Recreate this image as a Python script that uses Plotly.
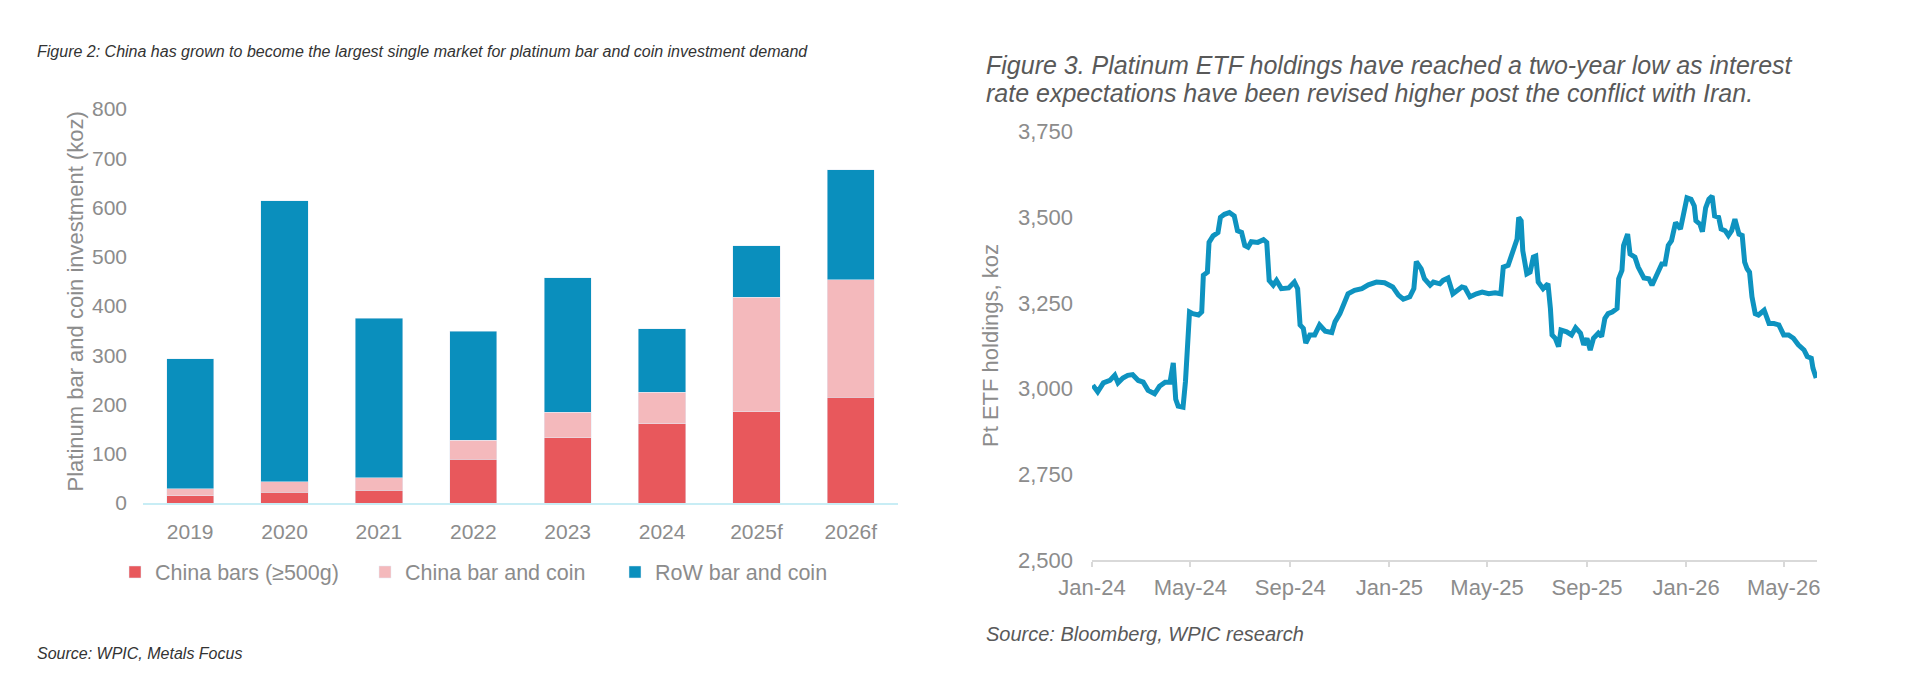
import plotly.graph_objects as go

# Figure 2 - bar and coin investment (koz)
years = ['2019', '2020', '2021', '2022', '2023', '2024', '2025f', '2026f']
china_bars = [15, 22, 26, 89, 133, 161, 185, 215]
china_bar_coin = [14, 21, 25, 38, 51, 64, 233, 238]
row_bar_coin = [264, 571, 324, 222, 273, 129, 104, 224]

# Figure 3 - Pt ETF holdings (koz)
etf_dates = [
    '2024-01-02', '2024-01-08', '2024-01-15', '2024-01-23', '2024-01-29', '2024-02-02',
    '2024-02-08', '2024-02-14', '2024-02-20', '2024-02-27', '2024-03-04', '2024-03-10',
    '2024-03-18', '2024-03-24', '2024-03-31', '2024-04-06', '2024-04-10', '2024-04-13',
    '2024-04-16', '2024-04-22', '2024-04-25', '2024-04-28', '2024-04-30', '2024-05-04',
    '2024-05-11', '2024-05-15', '2024-05-17', '2024-05-22', '2024-05-24', '2024-05-29',
    '2024-06-04', '2024-06-07', '2024-06-12', '2024-06-18', '2024-06-24', '2024-06-28',
    '2024-07-03', '2024-07-07', '2024-07-11', '2024-07-15', '2024-07-23', '2024-07-30',
    '2024-08-03', '2024-08-06', '2024-08-11', '2024-08-15', '2024-08-21', '2024-08-30',
    '2024-09-06', '2024-09-10', '2024-09-13', '2024-09-17', '2024-09-20', '2024-09-25',
    '2024-10-01', '2024-10-07', '2024-10-14', '2024-10-22', '2024-10-26', '2024-11-01',
    '2024-11-05', '2024-11-11', '2024-11-19', '2024-11-28', '2024-12-06', '2024-12-16',
    '2024-12-26', '2025-01-05', '2025-01-12', '2025-01-18', '2025-01-26', '2025-01-31',
    '2025-02-03', '2025-02-09', '2025-02-13', '2025-02-20', '2025-02-24', '2025-03-04',
    '2025-03-08', '2025-03-14', '2025-03-20', '2025-03-24', '2025-03-31', '2025-04-04',
    '2025-04-10', '2025-04-18', '2025-04-25', '2025-05-03', '2025-05-11', '2025-05-18',
    '2025-05-21', '2025-05-27', '2025-05-29', '2025-06-02', '2025-06-07', '2025-06-09',
    '2025-06-12', '2025-06-14', '2025-06-19', '2025-06-23', '2025-06-27', '2025-06-30',
    '2025-07-03', '2025-07-09', '2025-07-15', '2025-07-18', '2025-07-20', '2025-07-24',
    '2025-07-28', '2025-07-31', '2025-08-07', '2025-08-13', '2025-08-18', '2025-08-24',
    '2025-08-28', '2025-09-01', '2025-09-05', '2025-09-09', '2025-09-15', '2025-09-19',
    '2025-09-23', '2025-09-27', '2025-10-02', '2025-10-08', '2025-10-10', '2025-10-14',
    '2025-10-16', '2025-10-21', '2025-10-24', '2025-10-30', '2025-11-03', '2025-11-10',
    '2025-11-16', '2025-11-20', '2025-11-26', '2025-12-02', '2025-12-06', '2025-12-10',
    '2025-12-14', '2025-12-19', '2025-12-25', '2025-12-29', '2026-01-02', '2026-01-07',
    '2026-01-11', '2026-01-13', '2026-01-18', '2026-01-21', '2026-01-25', '2026-01-29',
    '2026-02-02', '2026-02-05', '2026-02-10', '2026-02-13', '2026-02-18', '2026-02-22',
    '2026-02-26', '2026-03-02', '2026-03-07', '2026-03-11', '2026-03-14', '2026-03-17',
    '2026-03-20', '2026-03-23', '2026-03-27', '2026-03-31', '2026-04-07', '2026-04-13',
    '2026-04-19', '2026-04-25', '2026-05-01', '2026-05-07', '2026-05-13', '2026-05-19',
    '2026-05-26', '2026-05-30', '2026-06-04', '2026-06-06', '2026-06-10',
]
etf_holdings = [
    3010, 2991, 3017, 3024, 3039, 3017,
    3031, 3039, 3041, 3024, 3019, 2995,
    2985, 3007, 3019, 3019, 3075, 2969,
    2949, 2946, 3021, 3118, 3224, 3219,
    3215, 3224, 3331, 3340, 3427, 3446,
    3456, 3500, 3509, 3514, 3504, 3461,
    3456, 3418, 3413, 3429, 3427, 3435,
    3427, 3316, 3302, 3316, 3292, 3294,
    3311, 3292, 3186, 3176, 3133, 3157,
    3157, 3186, 3168, 3164, 3195, 3219,
    3244, 3277, 3287, 3292, 3303, 3311,
    3309, 3297, 3273, 3261, 3268, 3292,
    3371, 3350, 3321, 3302, 3311, 3306,
    3316, 3323, 3277, 3285, 3297, 3294,
    3268, 3277, 3282, 3277, 3280, 3277,
    3355, 3360, 3374, 3393, 3437, 3500,
    3490, 3403, 3335, 3340, 3384, 3387,
    3311, 3292, 3306, 3234, 3157, 3147,
    3123, 3171, 3166, 3157, 3178, 3162,
    3128, 3147, 3113, 3147, 3162, 3152,
    3205, 3219, 3224, 3234, 3321, 3345,
    3418, 3451, 3393, 3384, 3355, 3323,
    3321, 3302, 3335, 3364, 3364, 3418,
    3432, 3485, 3466, 3509, 3557, 3553,
    3533, 3490, 3480, 3458, 3528, 3553,
    3562, 3504, 3500, 3466, 3461, 3447,
    3461, 3495, 3451, 3447, 3369, 3350,
    3340, 3268, 3219, 3215, 3229, 3190,
    3190, 3186, 3157, 3157, 3147, 3128,
    3113, 3094, 3089, 3060, 3031,
]

W, H = 1910, 698
OFF = 8  # page body margin
FONT = 'Arial, Liberation Sans, sans-serif'
GREY = '#8c8c8c'


def px(x):
    return (x - OFF) / W


def py(y):
    return 1 - (y - OFF) / H


fig = go.Figure()
fig.add_trace(go.Bar(x=years, y=china_bars, name='China bars (≥500g)', marker_color='#e8585c'))
fig.add_trace(go.Bar(x=years, y=china_bar_coin, name='China bar and coin', marker_color='#f4b9bc'))
fig.add_trace(go.Bar(x=years, y=row_bar_coin, name='RoW bar and coin', marker_color='#0a8fbd'))
fig.add_trace(go.Scatter(x=etf_dates, y=etf_holdings, mode='lines', showlegend=False,
                         line=dict(color='#0e93c0', width=5), xaxis='x2', yaxis='y2'))

fig.update_layout(
    width=W, height=H,
    margin=dict(l=0, r=0, t=0, b=0, autoexpand=False),
    paper_bgcolor='white', plot_bgcolor='white',
    font=dict(family=FONT, size=21, color=GREY),
    barmode='stack', bargap=0.5,
    showlegend=True,
    legend=dict(orientation='h', x=px(115), xanchor='left', y=py(572), yanchor='middle',
                traceorder='normal', entrywidth=205, font=dict(size=21.5, color=GREY)),
    xaxis=dict(domain=[px(143), px(898)], automargin=False, showgrid=False, showline=True,
               linecolor='#c8edf5', linewidth=2, ticks='', ticklabelstandoff=9,
               tickfont=dict(size=21, color=GREY)),
    yaxis=dict(domain=[py(503), py(109)], automargin=False, range=[0, 800], dtick=100,
               showgrid=False, zeroline=False, showline=False, ticks='', ticklabelstandoff=15,
               tickfont=dict(size=21, color=GREY)),
    xaxis2=dict(domain=[px(1092), px(1817)], anchor='y2', automargin=False, type='date',
                range=['2024-01-01', '2026-06-11'], tick0='2024-01-01', dtick='M4',
                tickformat='%b-%y', showgrid=False, showline=True, linecolor='#d9d9d9', linewidth=2,
                ticks='outside', ticklen=5, tickwidth=2, tickcolor='#d9d9d9', ticklabelstandoff=2,
                tickfont=dict(size=22, color=GREY)),
    yaxis2=dict(domain=[py(560), py(131.7)], anchor='x2', automargin=False,
                range=[2500, 3750], dtick=250, tickformat=',d', showgrid=False, zeroline=False,
                showline=False, ticks='', ticklabelstandoff=18, tickfont=dict(size=22, color=GREY)),
)

notes = [
    dict(x=35, y=52, size=16, color='#333333',
         text='<i>Figure 2: China has grown to become the largest single market for platinum bar and coin investment demand</i>'),
    dict(x=35, y=653, size=16, color='#333333', text='<i>Source: WPIC, Metals Focus</i>'),
    dict(x=984, y=65, size=25, color='#595959',
         text='<i>Figure 3. Platinum ETF holdings have reached a two-year low as interest</i>'),
    dict(x=984, y=93, size=25, color='#595959',
         text='<i>rate expectations have been revised higher post the conflict with Iran.</i>'),
    dict(x=984, y=634, size=20, color='#595959', text='<i>Source: Bloomberg, WPIC research</i>'),
]
for n in notes:
    fig.add_annotation(x=px(n['x']), y=py(n['y']), xref='paper', yref='paper',
                       xanchor='left', yanchor='middle', align='left', showarrow=False,
                       text=n['text'], font=dict(family=FONT, size=n['size'], color=n['color']))

fig.add_annotation(x=px(60), y=py(302), xref='paper', yref='paper', textangle=-90,
                   showarrow=False, text='Platinum bar and coin investment (koz)',
                   font=dict(family=FONT, size=22, color=GREY))
fig.add_annotation(x=px(990), y=py(345), xref='paper', yref='paper', textangle=-90,
                   showarrow=False, text='Pt ETF holdings, koz',
                   font=dict(family=FONT, size=22, color=GREY))

fig.write_html("out.html")
